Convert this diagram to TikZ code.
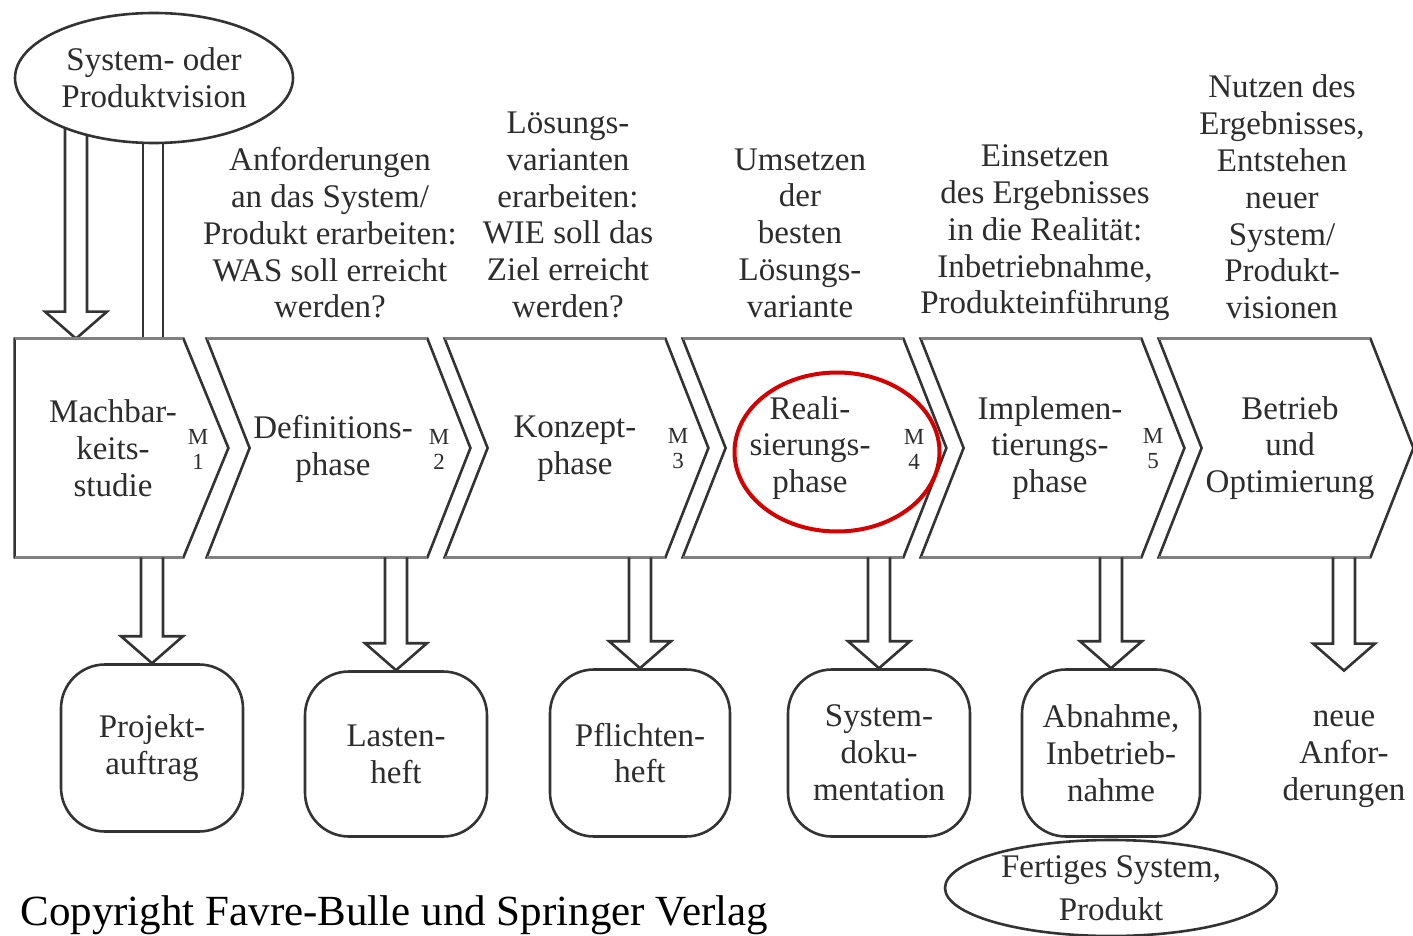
\documentclass[tikz,border=0pt]{standalone}
\usepackage{fontspec}
\setmainfont{Liberation Serif}
\usetikzlibrary{shapes.geometric,calc,backgrounds}
\definecolor{hlred}{RGB}{214,0,0}
\definecolor{ink}{RGB}{45,45,45}
\newcommand\hollowarrow[2]{%
  \draw[hollow] let \p1=(#1), \p2=(#2) in
    (\x2-5.5pt,\y1) -- (\x2-5.5pt,\y2+13.5pt) -- (\x2-15.5pt,\y2+13.5pt) --
    (\x2,\y2) -- (\x2+15.5pt,\y2+13.5pt) -- (\x2+5.5pt,\y2+13.5pt) -- (\x2+5.5pt,\y1);}
\newcommand\chevronpath[1]{%
  \draw[chevline] (#1.north west) -- (#1.north east) -- ([xshift=21.5pt]#1.east) --
    (#1.south east) -- (#1.south west) -- ([xshift=21.5pt]#1.west) -- cycle;
  \draw[chevedge] (#1.north west) -- (#1.north east);
  \draw[chevedge] (#1.south west) -- (#1.south east);}
\begin{document}
\begin{tikzpicture}[x=0.5pt,y=-0.5pt,
  every node/.style={inner sep=0pt, text=ink},
  txt/.style={font=\fontsize{16.5}{18.4}\selectfont, align=center},
  mlab/.style={font=\fontsize{11.5}{12.5}\selectfont, align=center},
  chev/.style={minimum height=109pt, draw=none},
  chevline/.style={draw=black!80, line width=1.3pt, line join=miter},
  chevedge/.style={draw=black!50, line width=1.8pt},
  result/.style={txt, draw=black!80, line width=1.3pt, rounded corners=22pt, minimum width=91pt, minimum height=83.5pt},
  hollow/.style={draw=black!80, line width=1.3pt, line join=miter},
  oval/.style={ellipse, draw=black!80, line width=1.3pt, fill=white}]
\useasboundingbox (0,0) rectangle (1413,936);

% chevrons (phases)
\node[chev, minimum width=84pt]  (c1) at (99,448) {};
\node[chev, minimum width=110pt] (c2) at (317,448) {};
\node[chev, minimum width=110pt] (c3) at (555,448) {};
\node[chev, minimum width=110pt] (c4) at (793,448) {};
\node[chev, minimum width=110pt] (c5) at (1031,448) {};
\node[chev, minimum width=105.5pt] (c6) at (1264.5,448) {};
\draw[chevline] (c1.north west) -- (c1.north east) -- ([xshift=22.5pt]c1.east) --
  (c1.south east) -- (c1.south west) -- cycle;
\draw[chevedge] (c1.north west) -- (c1.north east);
\draw[chevedge] (c1.south west) -- (c1.south east);
\chevronpath{c2}
\chevronpath{c3}
\chevronpath{c4}
\chevronpath{c5}
\chevronpath{c6}

% phase texts
\node[txt] (t1) at (113,448) {Machbar-\\keits-\\studie};
\node[txt] (t2) at (333,449) {Definitions-\\phase};
\node[txt] (t3) at (575,449) {Konzept-\\phase};
\node[txt] (t4) at (810,448) {Reali-\\sierungs-\\phase};
\node[txt] (t5) at (1050,448) {Implemen-\\tierungs-\\phase};
\node[txt] (t6) at (1290,448) {Betrieb\\und\\Optimierung};

% milestones
\node[mlab] (m1) at (198,449) {M\\1};
\node[mlab] (m2) at (439,449) {M\\2};
\node[mlab] (m3) at (678,449) {M\\3};
\node[mlab] (m4) at (914,449) {M\\4};
\node[mlab] (m5) at (1153,449) {M\\5};

% highlight
\node[ellipse, draw=hlred, line width=2pt, minimum width=102.5pt, minimum height=79.5pt] (hl) at (837,452) {};

% texts above
\node[txt] (top2) at (330,233) {Anforderungen\\an das System/\\Produkt erarbeiten:\\WAS soll erreicht\\werden?};
\node[txt] (top3) at (568,215) {Lösungs-\\varianten\\erarbeiten:\\WIE soll das\\Ziel erreicht\\werden?};
\node[txt] (top4) at (800,233) {Umsetzen\\der\\besten\\Lösungs-\\variante};
\node[txt] (top5) at (1045,233) {Einsetzen\\des Ergebnisses\\in die Realität:\\Inbetriebnahme,\\Produkteinführung};
\node[txt] (top6) at (1282,197) {Nutzen des\\Ergebnisses,\\Entstehen\\neuer\\System/\\Produkt-\\visionen};

% vision ellipse and its connectors
\node[oval, txt, minimum width=139pt, minimum height=65pt] (vis) at (154,78) {System- oder\\Produktvision};
\coordinate (a0) at (76,78);
\coordinate (d1) at (143,78);
\coordinate (d2) at (163,78);
\begin{pgfonlayer}{background}
  \hollowarrow{a0}{a0 |- c1.north}
  \draw[hollow] (d1) -- (d1 |- c1.north);
  \draw[hollow] (d2) -- (d2 |- c1.north);
\end{pgfonlayer}

% results
\node[result, minimum height=83.5pt] (r1) at (152,748) {Projekt-\\auftrag};
\node[result, minimum height=82.5pt] (r2) at (396,754) {Lasten-\\heft};
\node[result, minimum width=90pt] (r3) at (640,753) {Pflichten-\\heft};
\node[result] (r4) at (879,753) {System-\\doku-\\mentation};
\node[result, minimum width=89pt] (r5) at (1111,753) {Abnahme,\\Inbetrieb-\\nahme};
\node[txt, minimum height=88pt] (r6) at (1344,759) {neue\\Anfor-\\derungen};

\hollowarrow{r1.north |- c1.south}{r1.north}
\hollowarrow{r2.north |- c2.south}{r2.north}
\hollowarrow{r3.north |- c3.south}{r3.north}
\hollowarrow{r4.north |- c4.south}{r4.north}
\hollowarrow{r5.north |- c5.south}{r5.north}
\hollowarrow{r6.north |- c6.south}{r6.north}

% finished product ellipse
\node[oval, minimum width=166pt, minimum height=48pt] (fertig) at (1111,888) {};
\node[txt, font=\fontsize{16.5}{21.5}\selectfont] (fertigtxt) at (fertig.center) {Fertiges System,\\Produkt};

% copyright
\node[anchor=base west, text=black, font=\fontsize{21.5}{24}\selectfont] (copy) at (20,925) {Copyright Favre-Bulle und Springer Verlag};
\end{tikzpicture}
\end{document}
